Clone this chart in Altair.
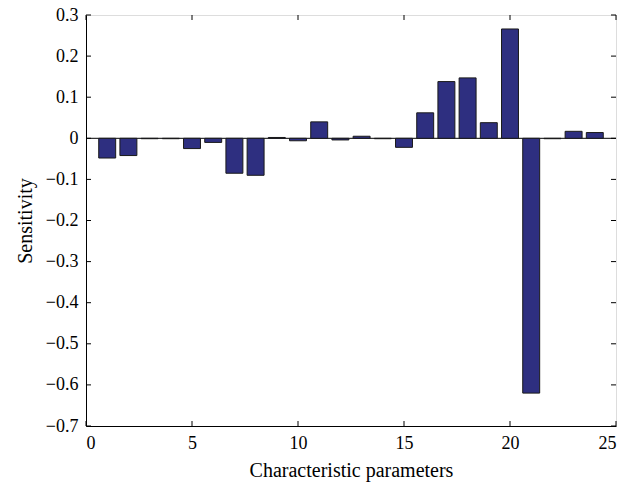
import altair as alt
import pandas as pd

params = list(range(1, 25))
sensitivity = [-0.048, -0.042, -0.001, -0.001, -0.025, -0.010, -0.085, -0.090,
               0.002, -0.006, 0.040, -0.004, 0.005, -0.001, -0.022, 0.062,
               0.138, 0.147, 0.038, 0.266, -0.620, -0.001, 0.017, 0.014]
x_ticks = [0, 5, 10, 15, 20, 25]
y_ticks = [-0.7, -0.6, -0.5, -0.4, -0.3, -0.2, -0.1, 0, 0.1, 0.2, 0.3]

W, H = 530, 411
FONT = "Liberation Serif"

df = pd.DataFrame({"p": params, "s": sensitivity})
xt = pd.DataFrame({"t": x_ticks})
yt = pd.DataFrame({"t": y_ticks})

xs = alt.Scale(domain=[0, 25], nice=False, zero=False)
ys = alt.Scale(domain=[-0.7, 0.3], nice=False, zero=False)

bars = alt.Chart(df).transform_calculate(
    x0="datum.p - 0.4", x1="datum.p + 0.4", z="0"
).mark_rect(color="#2e2f80", stroke="#1a1a1a", strokeWidth=1).encode(
    x=alt.X("x0:Q", scale=xs, axis=alt.Axis(
        values=x_ticks, title="Characteristic parameters", ticks=False,
        labelFont=FONT, labelFontSize=18, labelColor="black", labelPadding=8,
        titleFont=FONT, titleFontSize=20, titleFontWeight="normal", titleColor="black",
        titlePadding=8, grid=False, domainColor="black")),
    x2="x1:Q",
    y=alt.Y("s:Q", scale=ys, axis=alt.Axis(
        values=y_ticks, title="Sensitivity", ticks=False, format=".1~f",
        labelFont=FONT, labelFontSize=18, labelColor="black", labelPadding=8,
        titleFont=FONT, titleFontSize=20, titleFontWeight="normal", titleColor="black",
        titlePadding=10, grid=False, domainColor="black")),
    y2="z:Q",
)

zero = alt.Chart(pd.DataFrame({"z": [0]})).mark_rule(color="black", strokeWidth=1).encode(
    y=alt.Y("z:Q", scale=ys)
)

xb = alt.Chart(xt).mark_rule(color="black").encode(
    x=alt.X("t:Q", scale=xs), y=alt.value(H), y2=alt.value(H - 5))
xtp = alt.Chart(xt).mark_rule(color="black").encode(
    x=alt.X("t:Q", scale=xs), y=alt.value(0), y2=alt.value(5))
yl = alt.Chart(yt).mark_rule(color="black").encode(
    y=alt.Y("t:Q", scale=ys), x=alt.value(0), x2=alt.value(5))
yr = alt.Chart(yt).mark_rule(color="black").encode(
    y=alt.Y("t:Q", scale=ys), x=alt.value(W), x2=alt.value(W - 5))

chart = alt.layer(zero, bars, xb, xtp, yl, yr).properties(
    width=W, height=H,
    autosize=alt.AutoSizeParams(type="none"),
    padding={"left": 86, "top": 15, "right": 10, "bottom": 65},
).configure_view(stroke="black", strokeWidth=1).configure(background="white")

chart.save("out.html", embed_options={"renderer": "svg", "actions": False})
